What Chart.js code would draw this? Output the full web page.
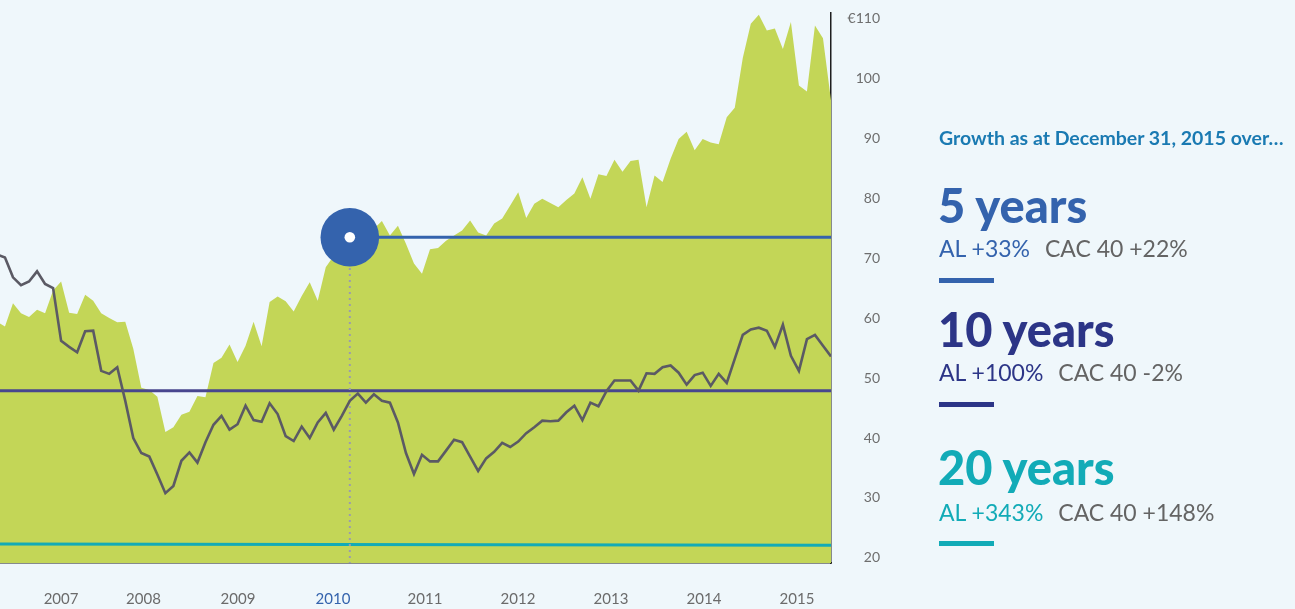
<!DOCTYPE html>
<html>
<head>
<meta charset="utf-8">
<title>AL share price vs CAC 40</title>
<script src="https://cdn.jsdelivr.net/npm/chart.js@4.4.1/dist/chart.umd.min.js"></script>
<style>
    html, body { margin: 0; padding: 0; background: #eff7fb; }
    body { width: 1295px; height: 609px; position: relative; overflow: hidden; font-family: Lato, "Open Sans", sans-serif; }
    #priceChart { position: absolute; left: 0; top: 0; }
    .heading { position: absolute; left: 939px; top: 127.5px; font-size: 19.5px; font-weight: 700; color: #1a7ab2; line-height: 1; white-space: nowrap; }
    .period { position: absolute; left: 938px; font-size: 47px; font-weight: 900; line-height: 1; white-space: nowrap; }
    .growth { position: absolute; left: 939px; font-size: 23px; line-height: 1; white-space: nowrap; }
    .growth .cac { color: #646464; margin-left: 9px; }
    .bar { position: absolute; left: 939px; width: 55px; height: 5px; }
</style>
</head>
<body>
<canvas id="priceChart" width="1295" height="609"></canvas>
<div class="heading">Growth as at December 31, 2015 over…</div>
<div id="panel"></div>

<script>
// ==================== DATA ====================

// monthly AL share price (euros), Aug 2007 .. Dec 2015
const alPrice = [
    59.4, 58.6, 62.5, 60.8, 60.2, 61.4, 60.8, 64.6, 66.1, 60.9,
    60.7, 63.9, 62.9, 60.8, 60.0, 59.3, 59.4, 54.9, 48.4, 48.0,
    46.9, 41.0, 41.8, 43.9, 44.4, 47.0, 46.8, 52.5, 53.4, 55.6,
    52.7, 55.4, 59.4, 55.3, 62.7, 63.6, 62.8, 61.1, 63.7, 66.0,
    62.9, 68.5, 70.4, 72.1, 73.5, 73.9, 74.6, 74.9, 76.2, 73.8,
    75.4, 72.4, 69.1, 67.4, 71.5, 71.7, 72.9, 73.8, 74.6, 76.3,
    74.3, 73.8, 75.8, 76.6, 78.8, 81.0, 76.7, 79.1, 79.9, 79.2,
    78.5, 79.7, 80.8, 83.5, 79.9, 84.0, 83.7, 86.4, 84.4, 86.2,
    86.4, 78.5, 83.8, 82.7, 86.6, 89.9, 91.1, 88.0, 89.9, 89.3,
    89.0, 93.5, 95.1, 103.4, 109.1, 110.6, 108.0, 108.3, 104.9, 109.4,
    98.8, 97.8, 108.8, 106.7, 96.3
];

// CAC 40, rebased on the same scale
const cac40 = [
    70.6, 70.1, 66.8, 65.5, 66.1, 67.8, 65.7, 65.0, 56.2, 55.2,
    54.3, 57.8, 57.9, 51.2, 50.7, 51.8, 46.2, 40.0, 37.5, 36.9,
    33.9, 30.8, 32.0, 36.2, 37.6, 35.9, 39.3, 42.2, 43.7, 41.4,
    42.3, 45.4, 43.0, 42.7, 45.8, 44.0, 40.3, 39.5, 41.9, 40.0,
    42.6, 44.2, 41.4, 43.7, 46.2, 47.4, 45.9, 47.3, 46.2, 45.9,
    42.6, 37.5, 34.0, 37.2, 36.1, 36.1, 37.9, 39.7, 39.3, 36.9,
    34.5, 36.6, 37.7, 39.2, 38.5, 39.4, 40.8, 41.8, 42.9, 42.8,
    42.9, 44.3, 45.4, 43.0, 45.9, 45.3, 47.8, 49.6, 49.6, 49.6,
    47.9, 50.8, 50.7, 51.8, 52.1, 50.9, 48.9, 50.5, 50.9, 48.7,
    50.7, 49.2, 53.2, 57.2, 58.1, 58.4, 57.9, 55.2, 58.9, 53.7,
    51.2, 56.5, 57.2, 55.4, 53.6
];

// x axis: year labels and where they sit (month index)
const yearLabels = ['2007', '2008', '2009', '2010', '2011', '2012', '2013', '2014', '2015'];
const yearTickPos = [7.99, 18.27, 30.06, 41.90, 53.37, 64.97, 76.56, 88.16, 99.76];
const highlightYear = '2010';

// y axis ticks
const yTickValues = [20, 30, 40, 50, 60, 70, 80, 90, 100, 110];

// reference levels: price at the start of each horizon
const horizonNames = ['5 years', '10 years', '20 years'];
const horizonStartIdx = [44, 0, 0];
const horizonStartLevel = [73.5, 47.9, 22.3];
const horizonEndLevel = [73.5, 47.9, 22.1];
const alGrowth = ['+33%', '+100%', '+343%'];
const cacGrowth = ['+22%', '-2%', '+148%'];

// ==================== STYLE ====================

const horizonColors = ['#3463ad', '#2c3587', '#12abb7'];
const horizonLineColors = ['#3463ad', '#48468e', '#12abb7'];
const panelTops = [
    { period: 181.5, growth: 237, bar: 278 },
    { period: 305.5, growth: 361, bar: 402 },
    { period: 444, growth: 500.5, bar: 541 }
];
const fontFamily = 'Lato, "Open Sans", sans-serif';
const lastIdx = alPrice.length - 1;

document.addEventListener('DOMContentLoaded', function() {
    buildPanel();
    createPriceChart();
});

// Right-hand text panel
function buildPanel() {
    const panel = document.getElementById('panel');
    horizonNames.forEach((name, i) => {
        const color = horizonColors[i];
        panel.insertAdjacentHTML('beforeend',
            `<div class="period" style="top:${panelTops[i].period}px;color:${color}">${name}</div>` +
            `<div class="growth" style="top:${panelTops[i].growth}px;color:${color}">AL ${alGrowth[i]} <span class="cac">CAC 40 ${cacGrowth[i]}</span></div>` +
            `<div class="bar" style="top:${panelTops[i].bar}px;background:${color}"></div>`);
    });
}

function toPoints(values) {
    return values.map((v, i) => ({ x: i, y: v }));
}

// drop the automatic label padding so the plot fills its box
function noPadding(scale) {
    scale.paddingLeft = 0;
    scale.paddingRight = 0;
    scale.paddingTop = 0;
    scale.paddingBottom = 0;
}

function createPriceChart() {
    const ctx = document.getElementById('priceChart').getContext('2d');

    const startIdx = horizonStartIdx[0];
    const startLevel = horizonStartLevel[0];

    const datasets = [
        {   // white centre of the marker
            data: [{ x: startIdx, y: startLevel }],
            showLine: false, pointRadius: 5.3, pointBackgroundColor: '#ffffff', pointBorderWidth: 0, order: 0
        },
        {   // 5-year marker
            data: [{ x: startIdx, y: startLevel }],
            showLine: false, pointRadius: 29.3, pointBackgroundColor: horizonLineColors[0], pointBorderWidth: 0, order: 1
        },
        {   // CAC 40
            data: toPoints(cac40),
            borderColor: '#5b5a64', borderWidth: 2.6, pointRadius: 0, fill: false, order: 3
        },
        {   // dotted drop line
            data: [{ x: startIdx, y: 19 }, { x: startIdx, y: startLevel }],
            borderColor: '#9b9bae', borderWidth: 2, borderDash: [2, 4], pointRadius: 0, fill: false, order: 4
        },
        {   // AL share price
            data: toPoints(alPrice),
            backgroundColor: '#c3d657', borderWidth: 0, pointRadius: 0, fill: 'start', order: 9
        }
    ];

    horizonNames.forEach((name, i) => {
        datasets.push({
            label: name,
            data: [{ x: horizonStartIdx[i], y: horizonStartLevel[i] }, { x: lastIdx, y: horizonEndLevel[i] }],
            borderColor: horizonLineColors[i], borderWidth: 3, pointRadius: 0, fill: false,
            order: i === 0 ? 2 : 5 + i
        });
    });

    new Chart(ctx, {
        type: 'line',
        data: { datasets: datasets },
        options: {
            responsive: false,
            animation: false,
            layout: { autoPadding: false, padding: { top: 13, left: 0, right: 415, bottom: 0 } },
            plugins: { legend: { display: false }, tooltip: { enabled: false } },
            elements: { line: { tension: 0 } },
            scales: {
                x: {
                    type: 'linear',
                    min: 0.38,
                    max: lastIdx,
                    z: 1,
                    grid: { display: false, drawTicks: false },
                    border: { display: true, color: '#1e1e1e', width: 1.5 },
                    afterBuildTicks: scale => { scale.ticks = yearTickPos.map(v => ({ value: v })); },
                    afterFit: scale => { scale.height = 46; noPadding(scale); },
                    ticks: {
                        autoSkip: false,
                        maxRotation: 0,
                        padding: 27.5,
                        font: { family: fontFamily, size: 15 },
                        color: c => yearLabels[c.index] === highlightYear ? '#3463ad' : '#6b6b6b',
                        callback: (value, index) => yearLabels[index]
                    }
                },
                y: {
                    type: 'linear',
                    position: 'right',
                    min: 19.15,
                    max: 110.9,
                    z: 1,
                    grid: { display: false, drawTicks: false },
                    border: { display: true, color: '#1e1e1e', width: 1.5 },
                    afterBuildTicks: scale => { scale.ticks = yTickValues.map(v => ({ value: v })); },
                    afterFit: scale => { scale.width = 49; noPadding(scale); },
                    ticks: {
                        crossAlign: 'far',
                        padding: 10,
                        font: { family: fontFamily, size: 14 },
                        color: '#6e6e6e',
                        callback: value => value === 110 ? '€110' : String(value)
                    }
                }
            }
        }
    });
}
</script>
</body>
</html>
